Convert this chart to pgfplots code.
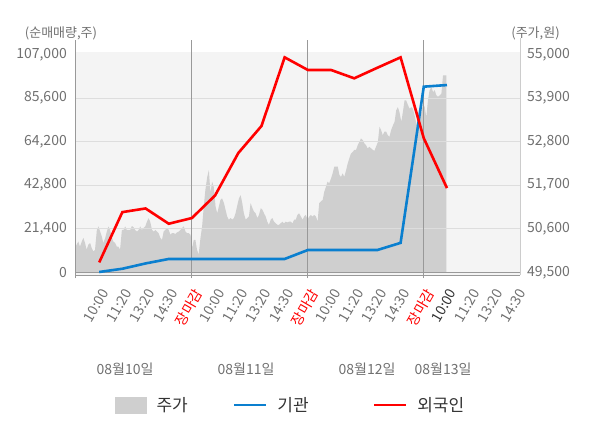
\documentclass[border=0pt]{standalone}
\usepackage{fontspec}
\setmainfont{Noto Sans CJK KR}
\usepackage{pgfplots}
\pgfplotsset{compat=1.18}
\definecolor{bgc}{HTML}{F4F4F4}
\definecolor{areac}{HTML}{CFCFCF}
\definecolor{gridc}{HTML}{DDDDDD}
\definecolor{vlinec}{HTML}{999999}
\definecolor{txtc}{HTML}{707070}
\definecolor{bluec}{HTML}{0A7FCF}
\definecolor{redc}{HTML}{FF0000}
\definecolor{legc}{HTML}{333333}
\begin{document}
\begin{tikzpicture}
\path[use as bounding box] (-76bp,-153bp) rectangle (524bp,275bp);
% price axis (right)
\begin{axis}[at={(0,0)}, anchor=south west, scale only axis, width=444bp, height=223bp,
 xmin=0, xmax=19.15, ymin=49434, ymax=55063,
 scaled x ticks=false, scaled y ticks=false,
 axis background/.style={fill=bgc},
 axis line style={draw=none},
 xtick=\empty,
 ytick={49500,50600,51700,52800,53900,55000},
 yticklabels={{49,500},{50,600},{51,700},{52,800},{53,900},{55,000}},
 ytick pos=right, yticklabel pos=right,
 major tick length=0pt,
 yticklabel style={font=\fontsize{14bp}{16bp}\selectfont, text=txtc, inner sep=0pt, xshift=7bp, anchor=west},
]
\addplot[fill=areac, draw=none] coordinates {
(0,49500)
(0.00,50170) (0.10,50280) (0.17,50150) (0.25,50280) (0.32,50370) (0.39,50240) (0.46,50070) (0.53,50200) (0.61,50240) (0.68,50110) (0.75,50030) (0.82,50070) (0.90,50570) (0.97,50660) (1.04,50530) (1.11,50410) (1.18,50240) (1.26,50370) (1.33,50530) (1.40,50660) (1.47,50570) (1.55,50370) (1.61,50280) (1.69,50240) (1.76,50150) (1.83,50150) (1.90,50070) (1.98,50570) (2.05,50570) (2.12,50660) (2.19,50570) (2.26,50570) (2.34,50570) (2.41,50670) (2.48,50640) (2.55,50570) (2.63,50530) (2.70,50570) (2.77,50660) (2.84,50570) (2.91,50620) (2.99,50660) (3.06,50780) (3.13,50870) (3.20,50780) (3.28,50570) (3.35,50530) (3.42,50570) (3.49,50530) (3.56,50490) (3.64,50370) (3.71,50320) (3.78,50530) (3.85,50570) (3.93,50620) (4.00,50570) (4.07,50450) (4.14,50490) (4.21,50490) (4.29,50470) (4.36,50510) (4.43,50530) (4.50,50570) (4.58,50620) (4.65,50660) (4.72,50530) (4.79,50490) (4.86,50490) (4.94,50450) (5.01,50120) (5.08,50320) (5.15,50320) (5.22,50070) (5.29,49950) (5.37,50370) (5.44,50660) (5.51,51160) (5.58,51580) (5.66,51910) (5.73,52080) (5.80,51500) (5.87,51790) (5.94,51660) (6.02,51160) (6.09,50990) (6.16,51160) (6.23,51330) (6.30,51370) (6.38,51250) (6.45,51080) (6.52,50910) (6.59,50830) (6.67,50870) (6.74,50830) (6.81,50870) (6.88,50990) (6.96,51200) (7.03,51370) (7.10,51450) (7.17,51250) (7.24,50990) (7.32,50830) (7.39,50870) (7.46,50910) (7.53,51250) (7.61,51120) (7.68,51030) (7.75,50990) (7.82,50870) (7.89,50950) (7.97,51120) (8.04,51080) (8.11,50990) (8.18,50910) (8.25,50780) (8.32,50700) (8.40,50830) (8.47,50870) (8.54,50780) (8.61,50740) (8.69,50700) (8.76,50700) (8.83,50740) (8.90,50780) (8.97,50740) (9.05,50780) (9.12,50760) (9.19,50780) (9.26,50780) (9.34,50740) (9.41,50830) (9.48,50830) (9.55,50950) (9.62,50990) (9.70,50910) (9.77,50830) (9.84,50910) (9.91,50950) (9.99,50830) (10.06,50910) (10.13,50950) (10.20,50910) (10.27,50950) (10.35,50910) (10.42,50780) (10.49,51250) (10.56,51290) (10.64,51330) (10.71,51540) (10.78,51660) (10.85,51790) (10.92,51750) (11.00,51870) (11.07,52000) (11.14,52170) (11.21,52170) (11.29,52170) (11.36,51960) (11.43,51910) (11.50,52000) (11.57,51910) (11.65,52080) (11.72,52250) (11.79,52380) (11.86,52500) (11.93,52540) (12.01,52590) (12.08,52590) (12.15,52710) (12.22,52790) (12.29,52880) (12.37,52840) (12.44,52750) (12.51,52710) (12.58,52630) (12.65,52670) (12.73,52630) (12.80,52590) (12.87,52570) (12.94,52670) (13.02,52790) (13.09,53170) (13.16,53090) (13.23,52960) (13.30,53050) (13.38,53050) (13.45,52960) (13.52,52920) (13.59,53090) (13.67,53210) (13.74,53300) (13.81,53590) (13.88,53670) (13.95,53550) (14.03,53300) (14.10,53550) (14.17,53840) (14.24,53840) (14.32,53720) (14.39,53630) (14.46,53670) (14.53,53630) (14.60,53470) (14.68,53260) (14.75,53170) (14.82,53380) (14.89,53510) (14.97,53760) (15.04,53670) (15.11,53420) (15.18,53840) (15.25,54100) (15.33,54180) (15.40,54050) (15.47,54100) (15.54,53970) (15.61,53930) (15.69,53970) (15.76,54010) (15.83,54470) (15.90,54470) (15.97,54470)
(15.97,49500)
} -- cycle;
\end{axis}
% net-buy axis (left)
\begin{axis}[at={(0,0)}, anchor=south west, scale only axis, width=444bp, height=223bp,
 xmin=0, xmax=19.15, ymin=-1275, ymax=108225, clip=false,
 scaled x ticks=false, scaled y ticks=false,
 axis line style={draw=none}, major tick length=0pt,
 ytick={0,21400,42800,64200,85600,107000},
 yticklabels={0,{21,400},{42,800},{64,200},{85,600},{107,000}},
 ytick pos=left,
 xtick={1,...,19}, xtick pos=bottom,
 xticklabels={10:00,11:20,13:20,14:30,{\color{redc}장마감},10:00,11:20,13:20,14:30,{\color{redc}장마감},10:00,11:20,13:20,14:30,{\color{redc}장마감},{\color{legc}10:00},11:20,13:20,14:30},
 xticklabel style={yshift=-12.5bp, xshift=1bp, rotate=60, anchor=north east, inner sep=0pt, font=\fontsize{14bp}{16bp}\selectfont, text=txtc},
 yticklabel style={anchor=east, inner sep=0pt, xshift=-9bp, font=\fontsize{14bp}{16bp}\selectfont, text=txtc},
 legend columns=3,
 legend cell align=left,
 legend image code/.code={\draw[#1] (0bp,0bp) -- (32bp,0bp);},
 legend style={at={(0.0878,-0.583)}, anchor=west, draw=none, fill=none, inner sep=0pt,
   font=\fontsize{17bp}{20bp}\selectfont, text=legc,
   /tikz/every odd column/.append style={column sep=8bp},
   /tikz/column 2/.style={column sep=43bp},
   /tikz/column 4/.style={column sep=62bp}},
]
\addlegendimage{legend image code/.code={\fill[areac] (0bp,-8bp) rectangle (31bp,8bp);}}
\addlegendentry{주가}
% grid and frame lines
\draw[color=gridc, line width=0.8bp] (axis cs:0,21400) -- (axis cs:19.15,21400);
\draw[color=gridc, line width=0.8bp] (axis cs:0,42800) -- (axis cs:19.15,42800);
\draw[color=gridc, line width=0.8bp] (axis cs:0,64200) -- (axis cs:19.15,64200);
\draw[color=gridc, line width=0.8bp] (axis cs:0,85600) -- (axis cs:19.15,85600);
\draw[color=vlinec, line width=1bp] (axis cs:5,-1275) ++(0,-6bp) -- ++(0,236bp);
\draw[color=vlinec, line width=1bp] (axis cs:10,-1275) ++(0,-6bp) -- ++(0,236bp);
\draw[color=vlinec, line width=1bp] (axis cs:15,-1275) ++(0,-6bp) -- ++(0,236bp);
\draw[color=vlinec, line width=1bp] (axis cs:0,-1275) ++(0,-6bp) -- ++(0,236bp);
\draw[color=black!20, line width=1bp] (axis cs:19.15,-1275) ++(0,-3bp) -- ++(0,235bp);
\draw[color=black!40, line width=1bp] (axis cs:0,0) -- (axis cs:19.15,0);
\draw[color=black!40, line width=1bp] (axis cs:0,-1275) -- (axis cs:19.15,-1275);
\addplot[color=bluec, line width=2.6bp] coordinates {
(1,200) (2,1800) (3,4400) (4,6600) (5,6600) (6,6600) (7,6600) (8,6600) (9,6600) (10,11000) (11,11000) (12,11000) (13,11000) (14,14500) (15,91200) (16,92000)};
\addlegendentry{기관}
\addplot[color=redc, line width=2.6bp] coordinates {
(1,4900) (2,29600) (3,31400) (4,23900) (5,26700) (6,37800) (7,58600) (8,71900) (9,105600) (10,99400) (11,99400) (12,95300) (13,100500) (14,105600) (15,65900) (16,41400)};
\addlegendentry{외국인}
\end{axis}
\node[font=\fontsize{13bp}{15bp}\selectfont, text=txtc] at (-15bp,242bp) {(순매매량,주)};
\node[font=\fontsize{13bp}{15bp}\selectfont, text=txtc] at (459.5bp,242bp) {(주가,원)};
\node[font=\fontsize{14bp}{16bp}\selectfont, text=txtc] at (49bp,-94bp) {08월10일};
\node[font=\fontsize{14bp}{16bp}\selectfont, text=txtc] at (170bp,-94bp) {08월11일};
\node[font=\fontsize{14bp}{16bp}\selectfont, text=txtc] at (291bp,-94bp) {08월12일};
\node[font=\fontsize{14bp}{16bp}\selectfont, text=txtc] at (367bp,-94bp) {08월13일};
\end{tikzpicture}
\end{document}
